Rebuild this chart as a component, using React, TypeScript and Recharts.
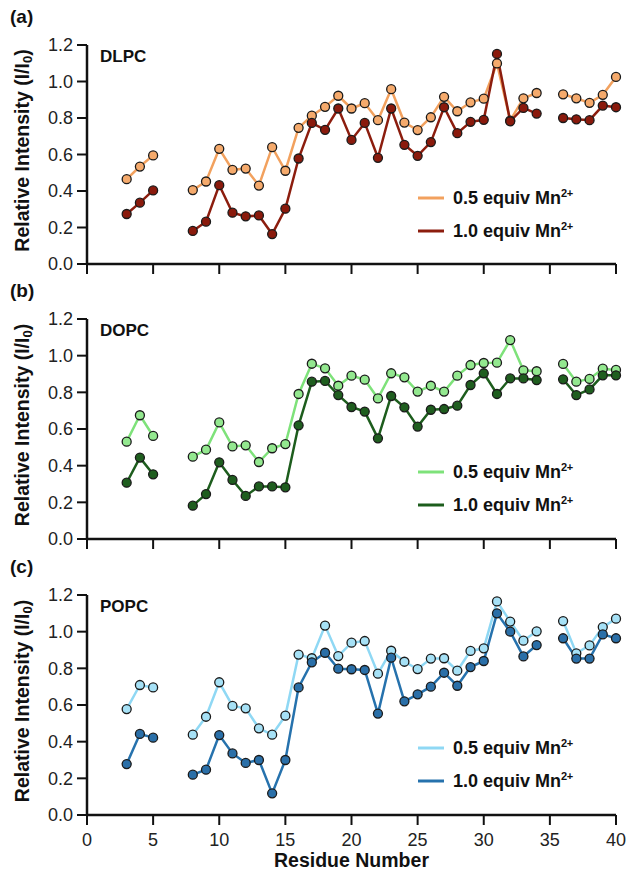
import React from 'react';
import { LineChart, Line, XAxis, YAxis } from 'recharts';

const FONT = '"Liberation Sans", Arial, sans-serif';

// residues 3..40 (6, 7 and 35 were not measured)
const residues = [3, 4, 5, 6, 7, 8, 9, 10, 11, 12, 13, 14, 15, 16, 17, 18, 19, 20, 21, 22, 23, 24, 25, 26, 27, 28, 29, 30, 31, 32, 33, 34, 35, 36, 37, 38, 39, 40];

const dlpcHalf = [0.465, 0.534, 0.595, null, null, 0.405, 0.452, 0.631, 0.516, 0.523, 0.43, 0.64, 0.511, 0.746, 0.813, 0.861, 0.922, 0.852, 0.881, 0.788, 0.958, 0.775, 0.734, 0.804, 0.916, 0.837, 0.886, 0.906, 1.099, 0.786, 0.908, 0.937, null, 0.93, 0.908, 0.883, 0.927, 1.025];
const dlpcFull = [0.274, 0.336, 0.403, null, null, 0.181, 0.232, 0.432, 0.281, 0.261, 0.266, 0.164, 0.303, 0.578, 0.773, 0.735, 0.852, 0.68, 0.773, 0.582, 0.852, 0.653, 0.593, 0.668, 0.859, 0.717, 0.779, 0.79, 1.151, 0.782, 0.855, 0.824, null, 0.8, 0.793, 0.788, 0.868, 0.859];

const dopcHalf = [0.531, 0.675, 0.562, null, null, 0.449, 0.487, 0.636, 0.505, 0.511, 0.42, 0.495, 0.518, 0.791, 0.956, 0.931, 0.836, 0.891, 0.869, 0.767, 0.904, 0.882, 0.804, 0.836, 0.804, 0.891, 0.949, 0.96, 0.962, 1.085, 0.92, 0.915, null, 0.955, 0.858, 0.873, 0.929, 0.922];
const dopcFull = [0.307, 0.444, 0.353, null, null, 0.182, 0.245, 0.418, 0.322, 0.235, 0.287, 0.287, 0.282, 0.62, 0.858, 0.862, 0.785, 0.72, 0.695, 0.549, 0.78, 0.718, 0.613, 0.705, 0.709, 0.727, 0.84, 0.904, 0.791, 0.876, 0.876, 0.867, null, 0.871, 0.785, 0.816, 0.893, 0.893];

const popcHalf = [0.578, 0.709, 0.696, null, null, 0.438, 0.536, 0.724, 0.595, 0.582, 0.473, 0.438, 0.542, 0.875, 0.855, 1.033, 0.867, 0.94, 0.949, 0.771, 0.896, 0.836, 0.796, 0.853, 0.855, 0.787, 0.895, 0.909, 1.165, 1.055, 0.951, 1.002, null, 1.058, 0.882, 0.925, 1.025, 1.071];
const popcFull = [0.278, 0.442, 0.422, null, null, 0.22, 0.247, 0.436, 0.336, 0.284, 0.3, 0.118, 0.3, 0.696, 0.833, 0.885, 0.798, 0.795, 0.791, 0.553, 0.858, 0.62, 0.658, 0.7, 0.776, 0.705, 0.807, 0.84, 1.1, 1.0, 0.865, 0.927, null, 0.964, 0.853, 0.853, 0.985, 0.964];

const xTicks = [0, 5, 10, 15, 20, 25, 30, 35, 40];
const yTicks = [0, 0.2, 0.4, 0.6, 0.8, 1.0, 1.2];
const equivs = ['0.5', '1.0'];

const build = (half: (number | null)[], full: (number | null)[]) =>
  residues.map((r, i) => ({ residue: r, half: half[i], full: full[i] }));

const YLabel = (props: any) => {
  const vb = props.viewBox || {};
  const cy = vb.y + vb.height / 2 - 4;
  return (
    <text
      x={22}
      y={cy}
      transform={`rotate(-90 22 ${cy})`}
      textAnchor="middle"
      dominantBaseline="central"
      fontFamily={FONT}
      fontWeight="bold"
      fontSize={19.5}
      fill="#111"
    >
      Relative Intensity (I/I
      <tspan fontSize={13} dy={5}>0</tspan>
      <tspan dy={-5}>)</tspan>
    </text>
  );
};

const XLabel = (props: any) => {
  const vb = props.viewBox || {};
  return (
    <text x={vb.x + vb.width / 2} y={vb.y + 52} textAnchor="middle" fontFamily={FONT} fontWeight="bold" fontSize={19.5} fill="#111">
      Residue Number
    </text>
  );
};

const LegendBox = ({ colors, top }: { colors: string[]; top: number }) => (
  <div style={{ position: 'absolute', left: 418, top, fontFamily: FONT, fontWeight: 'bold', fontSize: 18, color: '#111' }}>
    {equivs.map((eq, i) => (
      <div key={eq} style={{ display: 'flex', alignItems: 'center', height: 33 }}>
        <svg width={35} height={6}>
          <line x1={0} x2={26} y1={3} y2={3} stroke={colors[i]} strokeWidth={3} />
        </svg>
        <span>
          {eq} equiv Mn<sup style={{ fontSize: 11, letterSpacing: -0.5 }}>2+</sup>
        </span>
      </div>
    ))}
  </div>
);

interface PanelProps {
  tag: string;
  name: string;
  half: (number | null)[];
  full: (number | null)[];
  colors: string[];
  dots: string[];
  top: number;
  height: number;
  marginTop: number;
  bottom?: boolean;
}

const Panel = ({ tag, name, half, full, colors, dots, top, height, marginTop, bottom }: PanelProps) => {
  const data = build(half, full);
  const xh = bottom ? 63 : 16;
  return (
    <div style={{ position: 'absolute', left: 0, top, width: 627, height }}>
      <div style={{ position: 'absolute', left: 10, top: marginTop - 39, fontFamily: FONT, fontWeight: 'bold', fontSize: 19, color: '#111' }}>
        ({tag})
      </div>
      <div style={{ position: 'absolute', left: 100, top: marginTop + 2, fontFamily: FONT, fontWeight: 'bold', fontSize: 17, color: '#111', zIndex: 2 }}>
        {name}
      </div>
      <LineChart width={627} height={height} data={data} margin={{ top: marginTop, right: 11, bottom: 0, left: 0 }}>
        <XAxis
          dataKey="residue"
          type="number"
          domain={[0, 40]}
          ticks={xTicks}
          height={xh}
          interval={0}
          tickSize={10}
          tickMargin={8}
          axisLine={{ stroke: '#111', strokeWidth: 2.5 }}
          tickLine={{ stroke: '#111', strokeWidth: 2 }}
          tick={{ fill: '#222', fontSize: 18, fontFamily: FONT }}
          tickFormatter={(v: number) => (bottom ? String(v) : '')}
          label={bottom ? <XLabel /> : undefined}
        />
        <YAxis
          type="number"
          domain={[0, 1.2]}
          ticks={yTicks}
          width={87}
          interval={0}
          tickSize={10}
          tickMargin={4}
          axisLine={{ stroke: '#111', strokeWidth: 2.5 }}
          tickLine={{ stroke: '#111', strokeWidth: 2 }}
          tick={{ fill: '#222', fontSize: 18, fontFamily: FONT }}
          tickFormatter={(v: number) => v.toFixed(1)}
          label={<YLabel />}
        />
        <Line
          dataKey="half"
          name="0.5 equiv"
          stroke={colors[0]}
          strokeWidth={2.5}
          dot={{ r: 4.5, fill: dots[0], stroke: '#1a1a1a', strokeWidth: 1.3 }}
          activeDot={false}
          isAnimationActive={false}
        />
        <Line
          dataKey="full"
          name="1.0 equiv"
          stroke={colors[1]}
          strokeWidth={2.5}
          dot={{ r: 4.5, fill: dots[1], stroke: '#1a1a1a', strokeWidth: 1.3 }}
          activeDot={false}
          isAnimationActive={false}
        />
      </LineChart>
      <LegendBox colors={colors} top={marginTop + 136} />
    </div>
  );
};

export default function App() {
  return (
    <div style={{ position: 'absolute', left: 0, top: 0, width: 627, height: 878, background: '#fff' }}>
      <Panel tag="a" name="DLPC" half={dlpcHalf} full={dlpcFull} colors={['#f2a15e', '#8c1d0e']} dots={['#f5aa6c', '#8a1a0c']} top={0} height={280} marginTop={45} />
      <Panel tag="b" name="DOPC" half={dopcHalf} full={dopcFull} colors={['#7ee27a', '#1d5d1d']} dots={['#93e88f', '#1f5e1f']} top={280} height={275} marginTop={39} />
      <Panel tag="c" name="POPC" half={popcHalf} full={popcFull} colors={['#8fd8f4', '#2672ad']} dots={['#a6e1f6', '#2a6fa8']} top={555} height={323} marginTop={40} bottom />
    </div>
  );
}
